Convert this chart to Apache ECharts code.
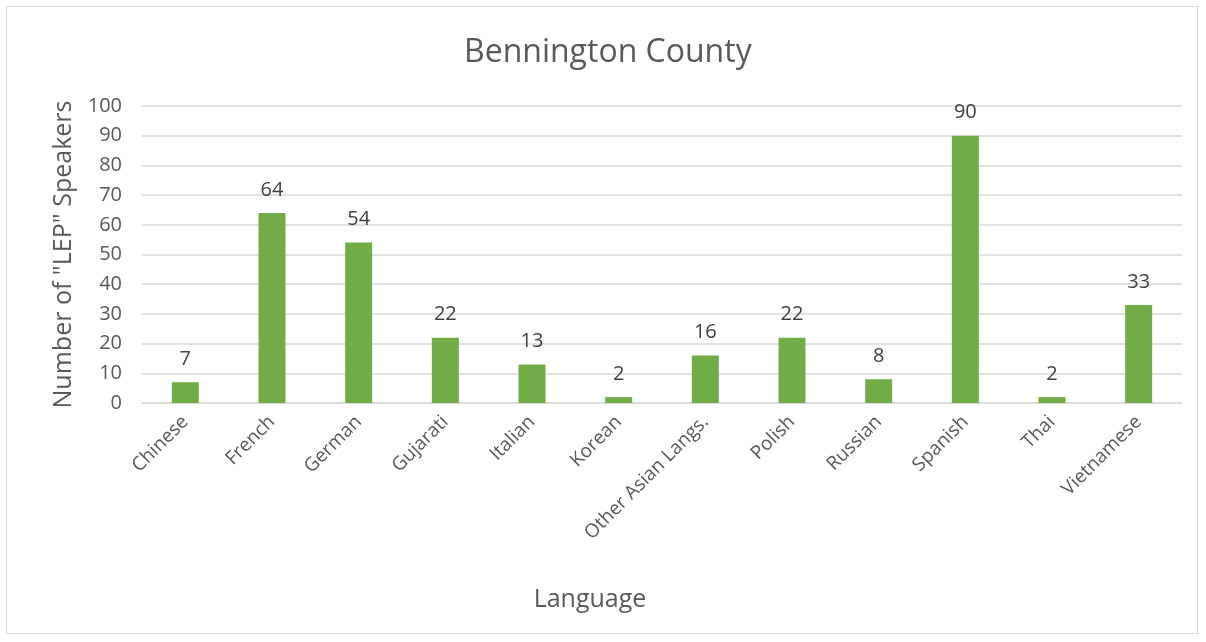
<!DOCTYPE html>
<html>
<head>
<meta charset="utf-8">
<script src="https://cdn.jsdelivr.net/npm/echarts@6/dist/echarts.min.js"></script>
<style>
  html, body { margin: 0; padding: 0; background: #fff; }
  #chart { position: absolute; left: 6px; top: 6px; width: 1192px; height: 628px; border: 1px solid #d9d9d9; box-sizing: border-box; }
</style>
</head>
<body>
<div id="chart"></div>
<script>
// Limited English proficiency speakers by language
const languages = ['Chinese', 'French', 'German', 'Gujarati', 'Italian', 'Korean',
  'Other Asian Langs.', 'Polish', 'Russian', 'Spanish', 'Thai', 'Vietnamese'];
const speakers = [7, 64, 54, 22, 13, 2, 16, 22, 8, 90, 2, 33];
const yTicks = [0, 10, 20, 30, 40, 50, 60, 70, 80, 90, 100];

const font = '"Open Sans", "Noto Sans", sans-serif';
const textColor = '#595959';

const chart = echarts.init(document.getElementById('chart'));
chart.setOption({
  animation: false,
  textStyle: { fontFamily: font },
  title: {
    text: 'Bennington County',
    left: 452,
    top: 25,
    textStyle: { fontFamily: font, fontSize: 32, fontWeight: 'normal', color: textColor }
  },
  grid: { left: 135, right: 15, top: 99, bottom: 230, containLabel: false },
  xAxis: {
    type: 'category',
    data: languages,
    name: 'Language',
    nameLocation: 'middle',
    nameGap: 184,
    nameTextStyle: { fontFamily: font, fontSize: 25, color: textColor, padding: [0, 144, 0, 0] },
    axisTick: { show: false },
    axisLine: { lineStyle: { color: '#d9d9d9', width: 1.5 } },
    axisLabel: { rotate: 45, fontFamily: font, fontSize: 19, color: textColor, margin: 16, interval: 0 }
  },
  yAxis: {
    type: 'value',
    min: yTicks[0],
    max: yTicks[yTicks.length - 1],
    interval: 10,
    name: 'Number of "LEP" Speakers',
    nameLocation: 'middle',
    nameGap: 54,
    nameRotate: 90,
    nameTextStyle: { fontFamily: font, fontSize: 25, color: textColor },
    axisLine: { show: false },
    axisTick: { show: false },
    axisLabel: { fontFamily: font, fontSize: 20, color: textColor, margin: 20 },
    splitLine: { lineStyle: { color: '#d9d9d9', width: 1.5 } }
  },
  series: [{
    type: 'bar',
    data: speakers,
    barWidth: 27,
    itemStyle: { color: '#70AD47' },
    label: {
      show: true,
      position: 'top',
      distance: 13,
      fontFamily: font,
      fontSize: 20,
      color: '#404040'
    }
  }]
});
</script>
</body>
</html>
